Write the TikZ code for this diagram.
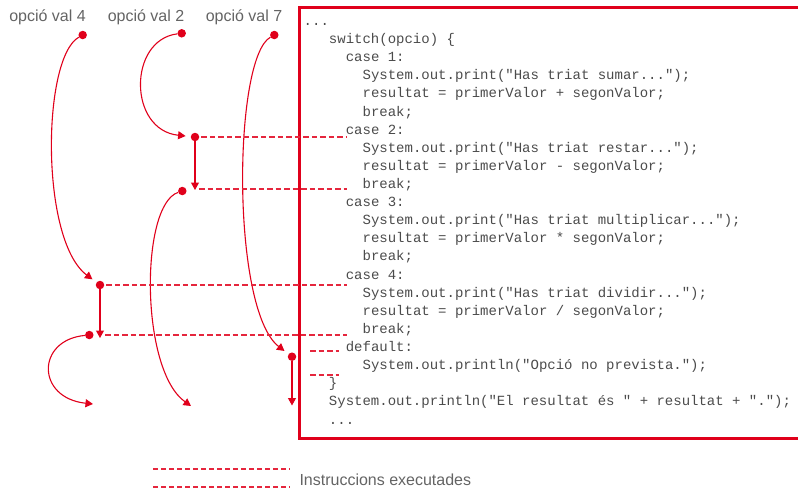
\documentclass[tikz,border=0pt]{standalone}
\usepackage{fontspec}
\usetikzlibrary{arrows.meta}
\newfontfamily\codefont{Liberation Mono}
\newfontfamily\labelfont{Liberation Sans}
\definecolor{flowred}{RGB}{224,0,27}
\definecolor{codegray}{RGB}{75,75,75}
\definecolor{labelgray}{RGB}{100,100,100}

\begin{document}
\begin{tikzpicture}[x=1pt,y=-1pt,
  dot/.style={circle,fill=flowred,inner sep=0pt,minimum size=8.5pt},
  flow/.style={draw=flowred,line width=1.1pt,-{Triangle[length=7.5pt,width=8pt]}},
  exec/.style={draw=flowred!85,line width=1.3pt,dash pattern=on 5.5pt off 3pt},
  frame/.style={draw=flowred,line width=2.3pt},
  codeline/.style={anchor=base west,inner sep=0pt,font=\codefont\fontsize{14}{16}\selectfont,text=codegray},
  caption/.style={anchor=base,inner sep=0pt,font=\labelfont\fontsize{16}{19}\selectfont,text=labelgray}]

\useasboundingbox (0,0) rectangle (798,488);

% frame around the code listing (open to the right)
\draw[frame] (806,7.5) -| (299.5,438.5) -- (806,438.5);

% code listing, one node per line: column / text
\foreach \col/\txt [count=\i] in {
  0/{...},
  3/{switch(opcio) \{},
  5/{case 1:},
  7/{System.out.print("Has triat sumar...");},
  7/{resultat = primerValor + segonValor;},
  7/{break;},
  5/{case 2:},
  7/{System.out.print("Has triat restar...");},
  7/{resultat = primerValor - segonValor;},
  7/{break;},
  5/{case 3:},
  7/{System.out.print("Has triat multiplicar...");},
  7/{resultat = primerValor * segonValor;},
  7/{break;},
  5/{case 4:},
  7/{System.out.print("Has triat dividir...");},
  7/{resultat = primerValor / segonValor;},
  7/{break;},
  5/{default:},
  7/{System.out.println("Opció no prevista.");},
  3/{\}},
  3/{System.out.println("El resultat és " + resultat + ".");},
  3/{...}}
  \node[codeline] (code\i) at ({303.5+\col*8.42},{25.4+(\i-1)*18.12}) {\txt};

% option labels
\node[caption] (opt4) at (47.5,21.3) {opció val 4};
\node[caption] (opt2) at (146,21.3) {opció val 2};
\node[caption] (opt7) at (244,21.3) {opció val 7};

% flow points
\node[dot] (s4) at (82.7,35) {};
\node[dot] (s2) at (181.7,33.3) {};
\node[dot] (s7) at (274.3,35) {};
\node[dot] (c2) at (195,137) {};
\node[dot] (n2) at (182.3,191) {};
\node[dot] (c4) at (100,285) {};
\node[dot] (n4) at (89.3,335) {};
\node[dot] (df) at (292,356.7) {};

\coordinate (c2end) at (195,190);
\coordinate (c4end) at (100,338);
\coordinate (dfend) at (292,405.5);
\coordinate (n4end) at (93,404);
\coordinate (n2end) at (191,406);

% jumps into the switch
\draw[flow,shorten >=5pt] (s2) .. controls (128,40) and (128,130) .. (c2);
\draw[flow,shorten >=5pt] (s4) .. controls (42,58) and (40,240) .. (c4);
\draw[flow,shorten >=5pt] (s7) .. controls (233,58) and (231,310) .. (df);

% execution inside a case
\draw[flow] (c2) -- (c2end);
\draw[flow] (c4) -- (c4end);
\draw[flow] (df) -- (dfend);

% leaving the switch
\draw[flow] (n2) .. controls (140,205) and (140,370) .. (n2end);
\draw[flow] (n4) .. controls (36,340) and (36,398) .. (n4end);

% executed-instruction markers
\coordinate (k2a) at (347,137);
\coordinate (j2b) at (199,189);
\coordinate (k2b) at (347,189);
\coordinate (k4a) at (347,285);
\coordinate (j4b) at (105,335);
\coordinate (k4b) at (347,335);
\draw[exec,shorten <=2pt] (c2) -- (k2a);
\draw[exec] (j2b) -- (k2b);
\draw[exec,shorten <=2pt] (c4) -- (k4a);
\draw[exec] (j4b) -- (k4b);

\coordinate (da1) at (310,351);
\coordinate (da2) at (338.5,351);
\coordinate (db1) at (310,375);
\coordinate (db2) at (338.5,375);
\draw[exec] (da1) -- (da2);
\draw[exec] (db1) -- (db2);

% legend
\coordinate (lga1) at (153,469);
\coordinate (lga2) at (290,469);
\coordinate (lgb1) at (153,487);
\coordinate (lgb2) at (290,487);
\draw[exec,dash pattern=on 4.5pt off 3.5pt] (lga1) -- (lga2);
\draw[exec,dash pattern=on 4.5pt off 3.5pt] (lgb1) -- (lgb2);
\node[caption,anchor=base west] (legend) at (299.3,485) {Instruccions executades};
\end{tikzpicture}
\end{document}
